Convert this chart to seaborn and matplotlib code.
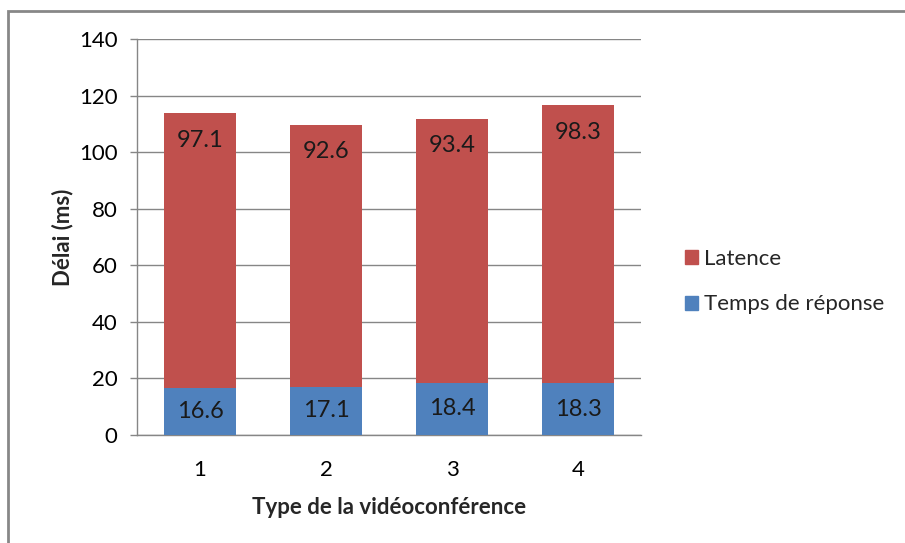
import matplotlib
matplotlib.use("Agg")
import matplotlib.pyplot as plt
import matplotlib.patches as mpatches
import seaborn as sns
import pandas as pd
from matplotlib import font_manager

categories = ["1", "2", "3", "4"]
temps_reponse = [16.6, 17.1, 18.4, 18.3]
latence = [97.1, 92.6, 93.4, 98.3]
series_names = ["Latence", "Temps de réponse"]
yticks = [0, 20, 40, 60, 80, 100, 120, 140]

RED = "#C0504D"
BLUE = "#4F81BD"
GRID = "#868686"

sns.set_theme(style="white")
avail = {f.name for f in font_manager.fontManager.ttflist}
fam = [f for f in ["Liberation Sans Narrow", "Lato", "DejaVu Sans"] if f in avail]
plt.rcParams["font.family"] = fam

df = pd.DataFrame({
    "cat": categories,
    "resp": temps_reponse,
    "lat": latence,
})
df["total"] = df["resp"] + df["lat"]

fig = plt.figure(figsize=(9.05, 5.43), dpi=100)
ax = fig.add_axes([137/905, 1-435/543, (641-137)/905, (435-39)/543])

sns.barplot(data=df, x="cat", y="total", color=RED, saturation=1, width=0.57,
            ax=ax, zorder=3, edgecolor="none")
sns.barplot(data=df, x="cat", y="resp", color=BLUE, saturation=1, width=0.57,
            ax=ax, zorder=4, edgecolor="none")

ax.set_ylim(0, 140)
ax.set_xlim(-0.5, 3.5)
ax.set_yticks(yticks)
ax.set_yticklabels([str(t) for t in yticks])
ax.yaxis.grid(True, color=GRID, linewidth=1, zorder=0)
ax.set_axisbelow(True)
for s in ["top", "right"]:
    ax.spines[s].set_visible(False)
ax.spines["left"].set_color(GRID)
ax.spines["bottom"].set_color(GRID)
ax.spines["left"].set_linewidth(1)
ax.spines["bottom"].set_linewidth(1)
ax.tick_params(axis="y", left=True, length=5, width=1, labelsize=16, pad=9,
               colors=GRID, labelcolor="black")
ax.tick_params(axis="x", bottom=False, labelsize=16, pad=12, labelcolor="black")

ax.set_ylabel("Délai (ms)", fontsize=16, fontweight="bold", labelpad=4)
ax.set_xlabel("Type de la vidéoconférence", fontsize=16, fontweight="bold", labelpad=12)

for i, (r, l) in enumerate(zip(temps_reponse, latence)):
    ax.text(i, r / 2, f"{r:.1f}", ha="center", va="center", fontsize=17, color="#1a1a1a", zorder=5)
    ax.text(i, r + l - 9.5, f"{l:.1f}", ha="center", va="center", fontsize=17, color="#1a1a1a", zorder=5)

handles = [mpatches.Patch(color=RED, label=series_names[0]),
           mpatches.Patch(color=BLUE, label=series_names[1])]
fig.legend(handles=handles, loc="upper left", bbox_to_anchor=(676/905, 1-240/543),
           frameon=False, fontsize=16, handlelength=0.6, handleheight=0.6,
           handletextpad=0.25, labelspacing=1.15, borderaxespad=0)

# figure border (chart area outline)
fig.add_artist(mpatches.Rectangle((8/905, -0.1), 1.1, 1-11/543 + 0.1,
                                  transform=fig.transFigure, fill=False,
                                  edgecolor="#878787", linewidth=2))

fig.savefig("out.png", dpi=100)
